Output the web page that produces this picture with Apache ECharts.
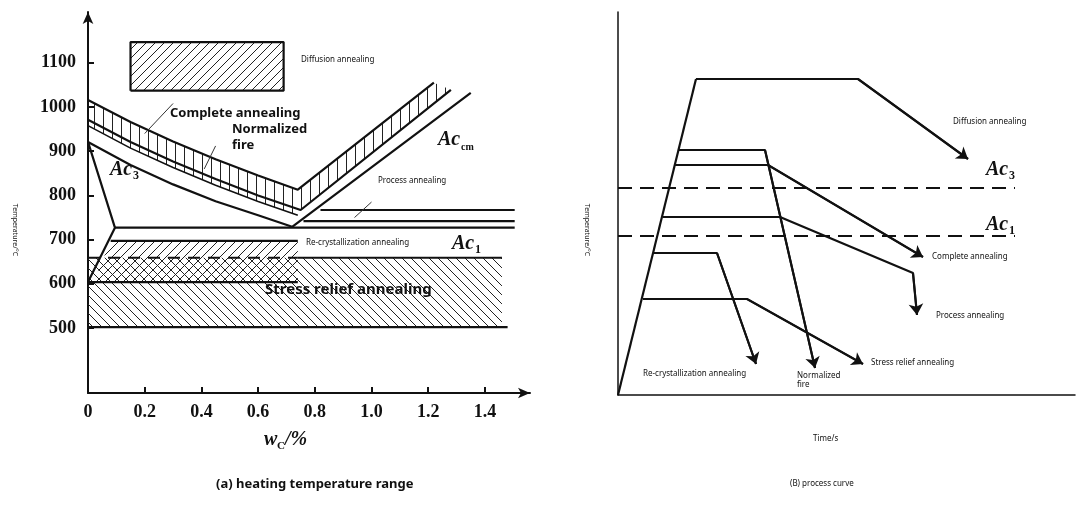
<!DOCTYPE html>
<html><head><meta charset="utf-8">
<script src="https://cdn.jsdelivr.net/npm/echarts@6/dist/echarts.min.js"></script>
<style>body{margin:0;background:#fff}#main{width:1080px;height:508px}</style>
</head><body><div id="main"></div>
<script>
// (a) heating temperature range, x = wC %, y = temperature
var xTicks = [0, 0.2, 0.4, 0.6, 0.8, 1.0, 1.2, 1.4];
var yTicks = [500, 600, 700, 800, 900, 1000, 1100];

var diffusionBox = [[0.15,1037],[0.69,1037],[0.69,1147],[0.15,1147]];
var curve1 = [[0,1016],[0.15,966],[0.3,922],[0.45,882],[0.6,845],[0.74,813],[1.22,1055]];
var curve2 = [[0,971],[0.15,921],[0.3,877],[0.45,837],[0.6,800],[0.75,767],[1.28,1039]];
var curve3 = [[0,958],[0.15,907],[0.3,863],[0.45,823],[0.6,786],[0.74,755]];
var curve4 = [[0,921],[0.15,869],[0.3,825],[0.45,787],[0.6,755],[0.72,729],[1.35,1032]];
var ac3Line = [[0,921],[0.095,727],[0,604]];
var lineA = [[0.095,727],[1.505,727]];
var lineB = [[0.76,742],[1.505,742]];
var lineC = [[0.82,767],[1.505,767]];
var ac1Line = [[0.08,697],[0.74,697]];
var dashLine = [[0,659],[0.74,659]];
var solid659 = [[0.74,659],[1.46,659]];
var line604 = [[0,604],[0.74,604]];
var line502 = [[0,502],[1.48,502]];
var recrystBox = [[0.02,604],[0.74,604],[0.74,697],[0.08,697]];
var stressBox = [[0,502],[1.46,502],[1.46,659],[0,659]];
// leader lines from labels to their bands
var leaderComplete = [[0.3,1008],[0.2,940]];
var leaderNormal = [[0.45,912],[0.41,860]];
var leaderProcess = [[1.0,785],[0.94,750]];

// (B) process curve, arbitrary time / temperature units
var heating = [[0,0],[78,316]];
var diffusion = [[78,316],[240,316],[350,236]];
var normalized = [[61,245],[147,245],[197,27]];
var complete = [[57,230],[150,230],[305,138]];
var processAnn = [[45,178],[162,178],[295,122],[299,80]];
var recryst = [[35,142],[99,142],[138,31]];
var stress = [[25,96],[129,96],[245,31]];
var ac3Dash = [[0,207],[397,207]];
var ac1Dash = [[0,159],[397,159]];

function hatch(kind){
  var c = document.createElement('canvas'); c.width = 9; c.height = 9;
  var g = c.getContext('2d'); g.strokeStyle = '#222'; g.lineWidth = 1;
  g.beginPath();
  if (kind === 'v') { g.moveTo(4.5,0); g.lineTo(4.5,9); }
  else if (kind === '/') { g.moveTo(0,9); g.lineTo(9,0); g.moveTo(-1,1); g.lineTo(1,-1); g.moveTo(8,10); g.lineTo(10,8); }
  else { g.moveTo(0,0); g.lineTo(9,9); g.moveTo(8,-1); g.lineTo(10,1); g.moveTo(-1,8); g.lineTo(1,10); }
  g.stroke();
  return {image: c, repeat: 'repeat'};
}

function poly(pts, fill, xi){
  return {type:'custom', xAxisIndex:xi, yAxisIndex:xi, data:pts, silent:true,
    renderItem:function(params, api){
      if (params.dataIndex) return;
      return {type:'polygon', shape:{points:pts.map(function(p){return api.coord(p);})},
        style:{fill:fill, stroke:'none'}};
    }};
}
function ln(pts, xi, extra){
  var s = {type:'line', xAxisIndex:xi, yAxisIndex:xi, data:pts, symbol:'none', silent:true,
    lineStyle:{color:'#111', width:2.2}, animation:false};
  for (var k in extra) s[k] = extra[k];
  return s;
}
// polyline in the process chart, last segment ends with an arrow head
function arrowPath(pts){
  var n = pts.length;
  return [ln(pts, 1), {type:'lines', coordinateSystem:'cartesian2d', xAxisIndex:1, yAxisIndex:1,
    symbol:['none','arrow'], symbolSize:[5,11], silent:true, z:3,
    lineStyle:{color:'#111', width:2, opacity:1}, data:[{coords:[pts[n-2], pts[n-1]]}]}];
}

var band1 = curve1.concat(curve2.slice().reverse());
var band2 = curve2.slice(0,6).concat(curve3.slice().reverse());
var thin = {lineStyle:{color:'#333', width:1}};

var series = [
  poly(diffusionBox, hatch('/'), 0),
  poly(band1, hatch('v'), 0),
  poly(band2, hatch('v'), 0),
  poly(stressBox, hatch('\\'), 0),
  poly(recrystBox, hatch('/'), 0),
  ln(diffusionBox.concat([diffusionBox[0]]), 0),
  ln(curve1, 0), ln(curve2, 0), ln(curve3, 0, {lineStyle:{color:'#111',width:1.6}}),
  ln(curve4, 0), ln(ac3Line, 0), ln(lineA, 0), ln(lineB, 0), ln(lineC, 0),
  ln(ac1Line, 0), ln(dashLine, 0, {lineStyle:{color:'#111', width:2.2, type:[12,8]}}),
  ln(solid659, 0), ln(line604, 0), ln(line502, 0),
  ln(leaderComplete, 0, thin), ln(leaderNormal, 0, thin), ln(leaderProcess, 0, thin),
  ln(heating, 1), ln(ac3Dash, 1, {lineStyle:{color:'#111', width:2, type:[14,8]}}),
  ln(ac1Dash, 1, {lineStyle:{color:'#111', width:2, type:[14,8]}})
].concat(arrowPath(diffusion), arrowPath(normalized), arrowPath(complete),
  arrowPath(processAnn), arrowPath(recryst), arrowPath(stress));

function txt(x, y, s, st){
  var style = {text:s, x:x, y:y, fontFamily:'Noto Sans', fontSize:8, fill:'#111', verticalAlign:'middle'};
  for (var k in st) style[k] = st[k];
  return {type:'text', x:0, y:0, style:style, z:50};
}
var big = {fontSize:13, fontWeight:'bold'};
var ac = {fontFamily:'Liberation Serif', fontStyle:'italic', fontWeight:'bold', fontSize:20};
var sub = {fontFamily:'Liberation Serif', fontSize:12, fontWeight:'bold'};
var graphics = [
  txt(301,60,'Diffusion annealing'),
  txt(170,113,'Complete annealing', big),
  txt(232,129,'Normalized', big), txt(232,145,'fire', big),
  txt(110,170,'Ac', ac), txt(133,176,'3', sub),
  txt(438,140,'Ac', ac), txt(461,147,'cm', {fontFamily:'Liberation Serif', fontSize:10, fontWeight:'bold'}),
  txt(378,181,'Process annealing'),
  txt(306,243,'Re-crystallization annealing'),
  txt(452,244,'Ac', ac), txt(475,250,'1', sub),
  txt(265,290,'Stress relief annealing', {fontSize:15, fontWeight:'bold'}),
  txt(264,440,'w', {fontFamily:'Liberation Serif', fontStyle:'italic', fontWeight:'bold', fontSize:20}),
  txt(277,446,'C', {fontFamily:'Liberation Serif', fontSize:11, fontWeight:'bold'}),
  txt(285,440,'/%', {fontFamily:'Liberation Serif', fontStyle:'italic', fontWeight:'bold', fontSize:20}),
  txt(216,484,'(a) heating temperature range', {fontSize:13, fontWeight:'bold'}),
  {type:'text', x:15, y:230, rotation:-Math.PI/2, style:{text:'Temperature/°C', fontFamily:'Noto Sans', fontSize:7, fill:'#111', align:'center', verticalAlign:'middle'}},
  {type:'text', x:587, y:230, rotation:-Math.PI/2, style:{text:'Temperature/°C', fontFamily:'Noto Sans', fontSize:7, fill:'#111', align:'center', verticalAlign:'middle'}},
  txt(953,122,'Diffusion annealing'),
  txt(986,170,'Ac', ac), txt(1009,176,'3', sub),
  txt(986,225,'Ac', ac), txt(1009,231,'1', sub),
  txt(932,257,'Complete annealing'),
  txt(936,316,'Process annealing'),
  txt(871,363,'Stress relief annealing'),
  txt(643,374,'Re-crystallization annealing'),
  txt(797,376,'Normalized'), txt(797,385,'fire'),
  txt(813,439,'Time/s'),
  txt(790,484,'(B) process curve')
];

var chart = echarts.init(document.getElementById('main'));
chart.setOption({
  animation:false,
  grid:[{left:88, top:12, width:442, height:381}, {left:618, top:12, width:457, height:383}],
  xAxis:[
    {type:'value', gridIndex:0, min:0, max:1.559, splitLine:{show:false},
     axisLine:{lineStyle:{color:'#111', width:2}, symbol:['none','arrow'], symbolSize:[8,12]},
     axisTick:{inside:true, length:6, lineStyle:{color:'#111', width:2}, customValues:xTicks},
     axisLabel:{customValues:xTicks, margin:10, color:'#111', fontFamily:'Liberation Serif', fontWeight:'bold', fontSize:18,
       formatter:function(v){return v===0?'0':v.toFixed(1);}}},
    {type:'value', gridIndex:1, min:0, max:457, splitLine:{show:false},
     axisLine:{lineStyle:{color:'#111', width:1.5}}, axisTick:{show:false}, axisLabel:{show:false}}
  ],
  yAxis:[
    {type:'value', gridIndex:0, min:353, max:1215, splitLine:{show:false},
     axisLine:{show:true, lineStyle:{color:'#111', width:2}, symbol:['none','arrow'], symbolSize:[8,12]},
     axisTick:{show:true, inside:true, length:6, lineStyle:{color:'#111', width:2}, customValues:yTicks},
     axisLabel:{customValues:yTicks, margin:12, color:'#111', fontFamily:'Liberation Serif', fontWeight:'bold', fontSize:18,
       formatter:function(v){return String(v);}}},
    {type:'value', gridIndex:1, min:0, max:383, splitLine:{show:false},
     axisLine:{show:true, lineStyle:{color:'#111', width:1.5}}, axisTick:{show:false}, axisLabel:{show:false}}
  ],
  graphic:graphics,
  series:series
});
</script></body></html>
